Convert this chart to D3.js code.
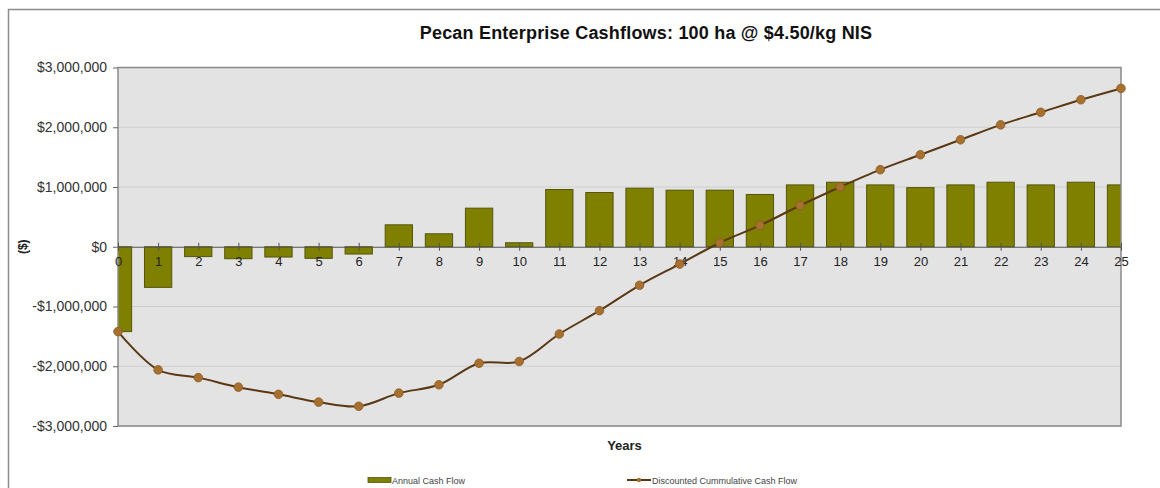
<!DOCTYPE html>
<html>
<head>
<meta charset="utf-8">
<script src="https://cdn.jsdelivr.net/npm/d3@7"></script>
<style>
  body { margin: 0; background: #fff; }
  svg { display: block; font-family: Arial, "Liberation Sans", sans-serif; }
</style>
</head>
<body>
<div id="chart"></div>
<script>
// Years on the x axis
const years = d3.range(0, 26);

// Annual cash flow ($)
const annualCashFlow = [
  -1420000, -680000, -165000, -200000, -172000, -194000, -122000, 367000,
  217000, 646000, 67000, 958000, 908000, 980000, 947000, 947000,
  875000, 1035000, 1080000, 1035000, 990000, 1035000, 1080000, 1035000,
  1080000, 1035000
];

// Discounted cumulative cash flow ($)
const cumulativeCashFlow = [
  -1420000, -2060000, -2190000, -2350000, -2470000, -2600000, -2670000, -2450000,
  -2310000, -1950000, -1920000, -1460000, -1070000, -645000, -290000, 67000,
  357000, 690000, 1000000, 1290000, 1540000, 1790000, 2040000, 2250000,
  2460000, 2650000
];

const yTicks = [3000000, 2000000, 1000000, 0, -1000000, -2000000, -3000000];

const W = 1160, H = 488;
const margin = { top: 67.5, right: 39, bottom: 62, left: 118 };
const width = W - margin.left - margin.right,
      height = H - margin.top - margin.bottom;

const svg = d3.select("#chart").append("svg")
    .attr("width", W)
    .attr("height", H);

// outer chart frame (runs off the right and bottom edges)
svg.append("rect")
    .attr("x", 8.5).attr("y", 9.5)
    .attr("width", 1200).attr("height", 600)
    .attr("fill", "#fff")
    .attr("stroke", "#8c8c8c")
    .attr("stroke-width", 1.5);

const g = svg.append("g")
    .attr("transform", "translate(" + margin.left + "," + margin.top + ")");

const x = d3.scalePoint()
    .domain(years)
    .range([0, width]);

const y = d3.scaleLinear()
    .domain([-3000000, 3000000])
    .range([height, 0]);

const barW = x.step() * 0.68;

// plot background
g.append("rect")
    .attr("width", width)
    .attr("height", height)
    .attr("fill", "#e3e3e3");

// gridlines
g.selectAll(".grid")
  .data(yTicks.filter(d => d !== 0))
  .enter().append("line")
    .attr("x1", 0).attr("x2", width)
    .attr("y1", d => y(d)).attr("y2", d => y(d))
    .attr("stroke", "#cfcfcf")
    .attr("stroke-width", 1);

// clip so end bars are cut at the plot edge
g.append("clipPath").attr("id", "plotclip")
  .append("rect").attr("width", width).attr("height", height);

const plot = g.append("g").attr("clip-path", "url(#plotclip)");

// bars
plot.selectAll(".bar")
  .data(years)
  .enter().append("rect")
    .attr("x", d => x(d) - barW / 2)
    .attr("y", d => y(Math.max(0, annualCashFlow[d])))
    .attr("width", barW)
    .attr("height", d => Math.abs(y(annualCashFlow[d]) - y(0)))
    .attr("fill", "#7f7f00")
    .attr("stroke", "#55550a")
    .attr("stroke-width", 1);

// plot border
g.append("rect")
    .attr("width", width)
    .attr("height", height)
    .attr("fill", "none")
    .attr("stroke", "#8a8a8a")
    .attr("stroke-width", 1.5);

// y axis
const yAxis = d3.axisLeft(y)
    .tickValues(yTicks)
    .tickSize(5)
    .tickPadding(6)
    .tickFormat(d => (d < 0 ? "-$" : "$") + d3.format(",")(Math.abs(d)));

g.append("g")
    .call(yAxis)
    .call(a => a.select(".domain").remove())
    .call(a => a.selectAll("line").attr("stroke", "#666"))
    .call(a => a.selectAll("text")
        .attr("font-size", "14px")
        .attr("fill", "#333")
        .attr("font-family", "Arial, 'Liberation Sans', sans-serif"));

// zero axis with category labels
const xAxis = d3.axisBottom(x)
    .tickSize(0)
    .tickPadding(10);

const xg = g.append("g")
    .attr("transform", "translate(0," + y(0) + ")")
    .call(xAxis);
xg.select(".domain").attr("stroke", "#555").attr("stroke-width", 1.2);
xg.selectAll("text")
    .attr("font-size", "13px")
    .attr("fill", "#222")
    .attr("font-family", "Arial, 'Liberation Sans', sans-serif");
xg.selectAll(".tick").append("line")
    .attr("y1", -4).attr("y2", 4)
    .attr("stroke", "#555");

// discounted cumulative line
const line = d3.line()
    .x(d => x(d))
    .y(d => y(cumulativeCashFlow[d]))
    .curve(d3.curveCatmullRom.alpha(0.5));

g.append("path")
  .datum(years)
    .attr("d", line)
    .attr("fill", "none")
    .attr("stroke", "#5a3814")
    .attr("stroke-width", 2);

g.selectAll(".pt")
  .data(years)
  .enter().append("circle")
    .attr("cx", d => x(d))
    .attr("cy", d => y(cumulativeCashFlow[d]))
    .attr("r", 4.3)
    .attr("fill", "#a8702f")
    .attr("stroke", "#8a5a26")
    .attr("stroke-width", 0.8);

// title
svg.append("text")
    .attr("x", 646).attr("y", 39)
    .attr("text-anchor", "middle")
    .attr("font-size", "18px")
    .attr("letter-spacing", "0.2px")
    .attr("font-weight", "bold")
    .attr("fill", "#111")
    .text("Pecan Enterprise Cashflows: 100 ha @ $4.50/kg NIS");

// y axis title
svg.append("text")
    .attr("transform", "translate(27," + (margin.top + y(0)) + ") rotate(-90)")
    .attr("text-anchor", "middle")
    .attr("font-size", "12px")
    .attr("font-weight", "bold")
    .attr("fill", "#222")
    .text("($)");

// x axis title
svg.append("text")
    .attr("x", margin.left + width / 2 + 5).attr("y", 450)
    .attr("text-anchor", "middle")
    .attr("font-size", "13px")
    .attr("font-weight", "bold")
    .attr("fill", "#222")
    .text("Years");

// legend
const leg = svg.append("g").attr("font-size", "9px").attr("fill", "#444");
leg.append("rect")
    .attr("x", 368).attr("y", 477.5)
    .attr("width", 23).attr("height", 5)
    .attr("fill", "#7f7f00").attr("stroke", "#55550a").attr("stroke-width", 0.8);
leg.append("text")
    .attr("x", 392).attr("y", 483.5)
    .text("Annual Cash Flow");

leg.append("line")
    .attr("x1", 627).attr("x2", 651)
    .attr("y1", 480).attr("y2", 480)
    .attr("stroke", "#5a3814").attr("stroke-width", 2);
leg.append("circle")
    .attr("cx", 639).attr("cy", 480).attr("r", 2.2)
    .attr("fill", "#a8702f");
leg.append("text")
    .attr("x", 652).attr("y", 483.5)
    .text("Discounted Cummulative Cash Flow");
</script>
</body>
</html>
